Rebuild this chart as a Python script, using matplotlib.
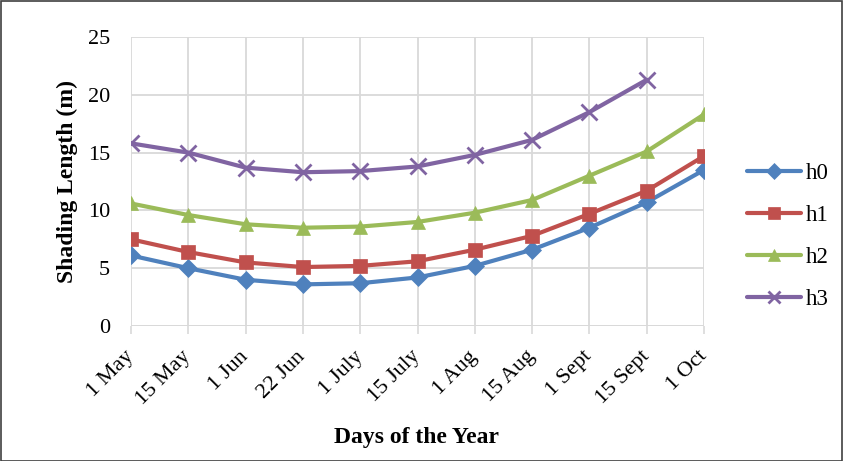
import matplotlib
matplotlib.use("Agg")
import matplotlib.pyplot as plt
from matplotlib.patches import Rectangle

days = ["1 May", "15 May", "1 Jun", "22 Jun", "1 July", "15 July",
        "1 Aug", "15 Aug", "1 Sept", "15 Sept", "1 Oct"]
h0 = [6.1, 5.0, 4.0, 3.6, 3.7, 4.2, 5.2, 6.6, 8.5, 10.7, 13.5]
h1 = [7.5, 6.4, 5.5, 5.1, 5.2, 5.6, 6.6, 7.8, 9.7, 11.7, 14.7]
h2 = [10.6, 9.6, 8.8, 8.5, 8.6, 9.0, 9.8, 10.9, 13.0, 15.1, 18.3]
h3 = [15.8, 15.0, 13.7, 13.3, 13.4, 13.8, 14.8, 16.1, 18.5, 21.3]
yticks = [0, 5, 10, 15, 20, 25]

plt.rcParams["font.family"] = ["Liberation Serif", "DejaVu Serif"]

W, H = 843, 461
fig = plt.figure(figsize=(W / 100, H / 100), dpi=100)
ax = fig.add_axes([131 / W, 1 - 326 / H, (704 - 131) / W, (326 - 37) / H])

series = [
    ("h0", h0, "#4F81BD", "D", 9.5),
    ("h1", h1, "#C0504D", "s", 10.5),
    ("h2", h2, "#9BBB59", "^", 10.5),
    ("h3", h3, "#8064A2", "x", 11),
]
handles = []
for name, vals, col, mk, ms in series:
    ln, = ax.plot(range(len(vals)), vals, color=col, lw=3, marker=mk,
                  markersize=ms, markeredgewidth=2 if mk == "x" else 0.5,
                  markeredgecolor=col, markerfacecolor=col, label=name,
                  solid_capstyle="round", zorder=3)
    handles.append(ln)

ax.set_xlim(0, len(days) - 1)
ax.set_ylim(0, 25)
ax.set_yticks(yticks)
ax.set_xticks(range(len(days)))
ax.set_xticklabels(days, rotation=45, ha="right", va="center",
                   rotation_mode="anchor", fontsize=16)
ax.tick_params(axis="y", length=0, labelsize=16, pad=15)
ax.tick_params(axis="x", length=6, color="#d9d9d9", width=1.2, pad=14)
ax.grid(True, color="#d9d9d9", lw=1.3)
ax.set_axisbelow(True)
for s in ax.spines.values():
    s.set_visible(False)
ax.axhline(0, color="#d9d9d9", lw=1.3, zorder=1)

ax.set_xlabel("Days of the Year", fontsize=17, fontweight="bold")
ax.set_ylabel("Shading Length (m)", fontsize=17, fontweight="bold")
ax.xaxis.set_label_coords((417 - 131) / 573, -(438 - 326) / 289)
ax.yaxis.set_label_coords((67 - 131) / 573, 0.5)
ax.xaxis.label.set_va("center")
ax.yaxis.label.set_va("center")

leg = fig.legend(handles=handles, loc="upper left",
                 bbox_to_anchor=(747 / W, 1 - 163 / H), frameon=False,
                 fontsize=16.5, handlelength=2.35, labelspacing=0.92,
                 handletextpad=0.2, borderpad=0, borderaxespad=0,
                 markerscale=0.85)

fig.patches.append(Rectangle((0.5 / W, 0.5 / H), 1 - 1.5 / W, 1 - 1.5 / H,
                             transform=fig.transFigure, fill=False,
                             edgecolor="#404040", lw=1.2))

fig.savefig("out.png", dpi=100)
